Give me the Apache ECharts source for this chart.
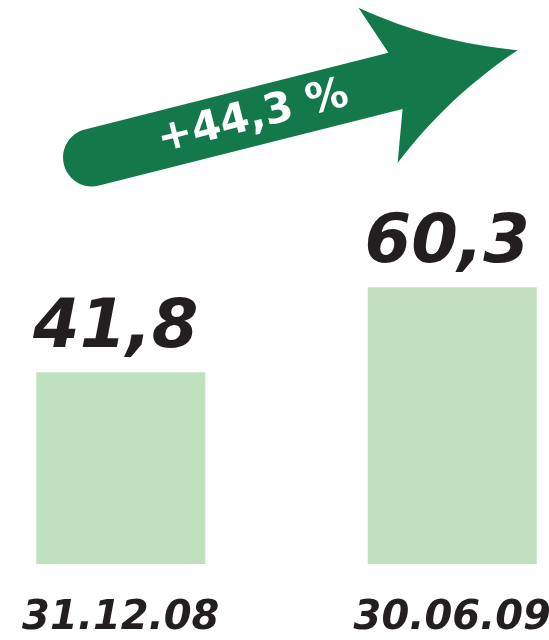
<!DOCTYPE html>
<html>
<head>
<meta charset="utf-8">
<style>
  html, body { margin: 0; padding: 0; background: #ffffff; }
  #chart { width: 549px; height: 640px; }
</style>
<script src="https://cdn.jsdelivr.net/npm/echarts@6/dist/echarts.min.js"></script>
</head>
<body>
<div id="chart"></div>
<script>
const categories = ['31.12.08', '30.06.09'];
const values = [41.8, 60.3];
const growthLabel = '+44,3 %';

const BAR_COLOR = '#c1e0bf';
const ARROW_COLOR = '#13784a';
const TEXT_COLOR = '#231f20';
const FONT = '"DejaVu Sans", sans-serif';

// Arrow outline (decoration), in the arrow's own rotated frame
function quad(p0, c, p1, n) {
  const pts = [];
  for (let i = 1; i <= n; i++) {
    const t = i / n, a = (1 - t) * (1 - t), b = 2 * (1 - t) * t, d = t * t;
    pts.push([a * p0[0] + b * c[0] + d * p1[0], a * p0[1] + b * c[1] + d * p1[1]]);
  }
  return pts;
}
function arrowShape() {
  const r = 29;
  let pts = [[0, -r], [313, -r], [295, -80]];
  pts = pts.concat(quad([295, -80], [360, -28], [439, 0], 16));
  pts = pts.concat(quad([439, 0], [360, 28], [295, 80], 16));
  pts.push([313, r], [0, r]);
  for (let i = 1; i < 24; i++) {
    const ang = Math.PI / 2 + Math.PI * i / 24;
    pts.push([r * Math.cos(ang), r * Math.sin(ang)]);
  }
  return pts;
}

const chart = echarts.init(document.getElementById('chart'), null, { renderer: 'canvas' });

chart.setOption({
  backgroundColor: '#ffffff',
  animation: false,
  grid: {
    left: -45, right: -69, top: 105, bottom: 76,
    containLabel: false,
    outerBoundsMode: 'none'
  },
  xAxis: {
    type: 'category',
    data: categories,
    axisLine: { show: false },
    axisTick: { show: false },
    axisLabel: {
      margin: 35,
      color: TEXT_COLOR,
      fontFamily: FONT,
      fontWeight: 'bold',
      fontStyle: 'italic',
      fontSize: 40
    }
  },
  yAxis: {
    type: 'value',
    min: 0,
    max: 100,
    show: false,
    splitLine: { show: false }
  },
  series: [{
    type: 'bar',
    data: values,
    barWidth: 169,
    itemStyle: { color: BAR_COLOR },
    label: {
      show: true,
      position: 'top',
      distance: 9,
      offset: [-5, 0],
      color: TEXT_COLOR,
      fontFamily: FONT,
      fontWeight: 'bold',
      fontStyle: 'italic',
      fontSize: 67,
      formatter: p => String(p.value).replace('.', ',')
    }
  }],
  graphic: {
    elements: [{
      type: 'group',
      x: 92,
      y: 157.5,
      rotation: 0.247,
      children: [
        {
          type: 'polygon',
          shape: { points: arrowShape() },
          style: { fill: ARROW_COLOR }
        },
        {
          type: 'text',
          x: 166,
          y: 1,
          style: {
            text: growthLabel,
            fill: '#ffffff',
            fontFamily: FONT,
            fontWeight: 'bold',
            fontSize: 42,
            align: 'center',
            verticalAlign: 'middle',
            textAlign: 'center',
            textVerticalAlign: 'middle'
          }
        }
      ]
    }]
  }
});
</script>
</body>
</html>
